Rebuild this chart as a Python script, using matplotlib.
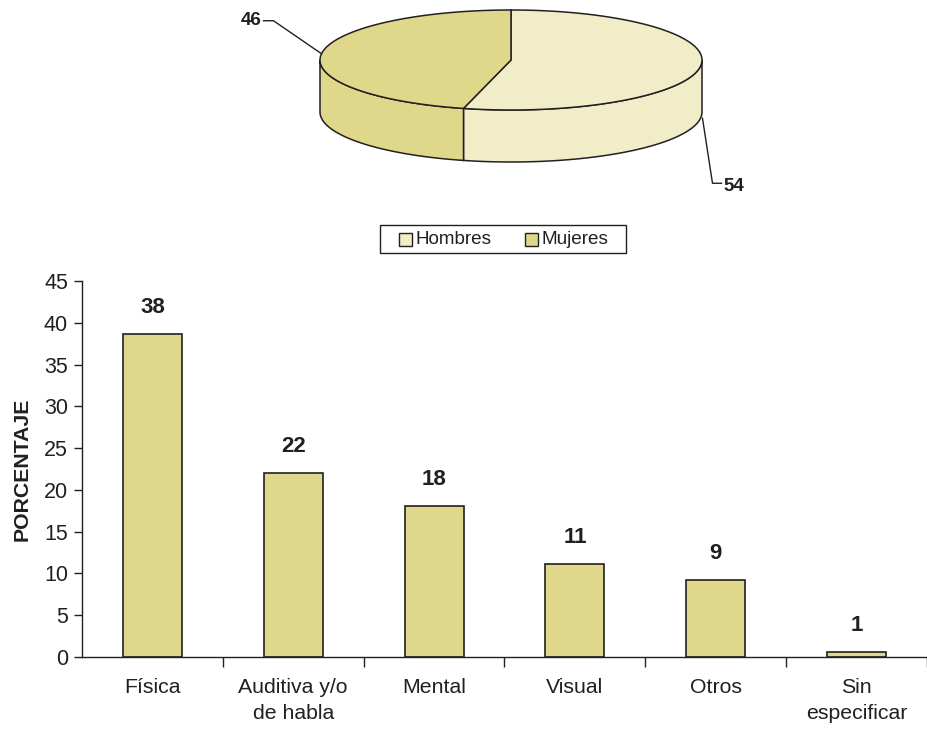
import numpy as np
import matplotlib
matplotlib.use('Agg')
import matplotlib.pyplot as plt
from matplotlib.patches import Polygon, Rectangle

plt.rcParams['font.family'] = ['Liberation Sans', 'DejaVu Sans']

# ---------------- data ----------------
categories = ['Física', 'Auditiva y/o\nde habla', 'Mental', 'Visual', 'Otros', 'Sin\nespecificar']
values = [38.6, 22.0, 18.1, 11.1, 9.2, 0.6]
value_labels = ['38', '22', '18', '11', '9', '1']
y_ticks = [0, 5, 10, 15, 20, 25, 30, 35, 40, 45]
y_label = 'PORCENTAJE'

sex_labels = ['Hombres', 'Mujeres']
sex_values = [54, 46]

# ---------------- style ----------------
bar_color = '#DFD78A'
sex_colors = ['#F1EDC8', '#DFD78A']
txt = '#231F20'
edge = '#231F20'

W, H = 927, 730
fig = plt.figure(figsize=(W / 100, H / 100), dpi=100)

# ---------------- bar chart ----------------
ax = fig.add_axes([82 / W, 73 / H, 845 / W, 376 / H])
x = np.arange(len(categories))
ax.bar(x, values, width=0.42, color=bar_color, edgecolor=edge, linewidth=1.2, zorder=2)
ax.set_xlim(-0.5, len(categories) - 0.5)
ax.set_ylim(0, 45)
ax.set_yticks(y_ticks)
ax.set_yticklabels([str(t) for t in y_ticks], fontsize=15.5, color=txt)
ax.set_xticks(np.append(x[:-1] + 0.5, len(categories) - 0.5))
ax.set_xticklabels([])
ax.set_xticks(x, minor=True)
ax.set_xticklabels(categories, minor=True, fontsize=15.3, color=txt, linespacing=1.45)
ax.tick_params(axis='x', which='major', length=7, width=1, color=edge, direction='out')
ax.tick_params(axis='x', which='minor', length=0, pad=15)
ax.tick_params(axis='y', length=6, width=1, color=edge, direction='out', pad=4)
for s in ['top', 'right']:
    ax.spines[s].set_visible(False)
for s in ['left', 'bottom']:
    ax.spines[s].set_color(edge)
    ax.spines[s].set_linewidth(1)
ax.set_ylabel(y_label, fontsize=15.3, fontweight='bold', color=txt, labelpad=9)
for xi, v, lab in zip(x, values, value_labels):
    ax.text(xi, v + 3.2, lab, ha='center', va='center', fontsize=16,
            fontweight='bold', color=txt)

# ---------------- 3D pie (overlay in pixel coordinates) ----------------
ov = fig.add_axes([0, 0, 1, 1])
ov.set_xlim(0, W)
ov.set_ylim(H, 0)
ov.axis('off')
ov.patch.set_alpha(0)

cx, cy, rx, ry, depth = 511, 60, 191, 50, 52


def pt(t, dy=0.0):
    r = np.deg2rad(t)
    return cx + rx * np.cos(r), cy - ry * np.sin(r) + dy


total = float(sum(sex_values))
start = 90.0
slices = []
for lab, val, col in zip(sex_labels, sex_values, sex_colors):
    span = 360.0 * val / total
    t1, t2 = start - span, start  # clockwise from top
    slices.append((lab, val, col, t1, t2))
    start = t1

# sides (visible front half: 180..360 deg)
for lab, val, col, t1, t2 in slices:
    a = t1 % 360
    b = a + (t2 - t1)
    for lo, hi in [(180, 360), (540, 720)]:
        s0, s1 = max(a, lo), min(b, hi)
        if s1 > s0:
            ts = np.linspace(s0, s1, 120)
            top = [pt(t) for t in ts]
            bot = [pt(t, depth) for t in ts[::-1]]
            ov.add_patch(Polygon(top + bot, closed=True, facecolor=col,
                                 edgecolor=edge, linewidth=1.1, zorder=2))

# top faces
for lab, val, col, t1, t2 in slices:
    ts = np.linspace(t1, t2, 200)
    verts = [(cx, cy)] + [pt(t) for t in ts]
    ov.add_patch(Polygon(verts, closed=True, facecolor=col, edgecolor=edge,
                         linewidth=1.1, zorder=3))

# leader lines & labels
for lab, val, col, t1, t2 in slices:
    tm = 0.5 * (t1 + t2)
    if lab == 'Hombres':
        ax_, ay_ = pt(tm, depth)
        ax_ += 2
        kx, ky = ax_ + 10, ay_ + 65
        ov.plot([ax_, kx, kx + 9], [ay_, ky, ky], color=edge, lw=1, zorder=4)
        ov.text(kx + 11, ky + 3, str(val), ha='left', va='center', fontsize=13.5,
                fontweight='bold', color=txt)
    else:
        ax_, ay_ = pt(tm)
        kx, ky = ax_ - 48, ay_ - 33
        ov.plot([ax_, kx, kx - 10], [ay_, ky, ky], color=edge, lw=1, zorder=4)
        ov.text(kx - 12, ky, str(val), ha='right', va='center', fontsize=13.5,
                fontweight='bold', color=txt)

# legend (drawn manually to match the box proportions)
lx0, lx1, ly0, ly1 = 380, 626, 225, 253
ov.add_patch(Rectangle((lx0, ly0), lx1 - lx0, ly1 - ly0, facecolor='white',
                       edgecolor=edge, linewidth=1, zorder=5))
item_x = [399, 525]
sq = 13
lyc = 0.5 * (ly0 + ly1)
for ix, lab, col in zip(item_x, sex_labels, sex_colors):
    ov.add_patch(Rectangle((ix, lyc - sq / 2), sq, sq, facecolor=col,
                           edgecolor=edge, linewidth=1, zorder=6))
    ov.text(ix + sq + 4, lyc + 0.5, lab, ha='left', va='center', fontsize=13.6,
            color=txt, zorder=6)

fig.savefig('out.png', dpi=100)
